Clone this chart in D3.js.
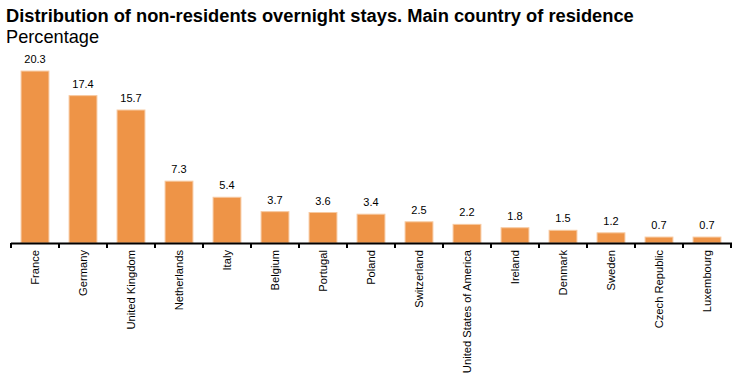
<!DOCTYPE html>
<html>
<head>
<meta charset="utf-8">
<script src="https://cdn.jsdelivr.net/npm/d3@7"></script>
<style>
  body { margin: 0; background: #fff; }
  text { font-family: "Liberation Sans", Arial, sans-serif; }
</style>
</head>
<body>
<div id="chart"></div>
<script>
// Data
var countries = ["France", "Germany", "United Kingdom", "Netherlands", "Italy", "Belgium",
                 "Portugal", "Poland", "Switzerland", "United States of America", "Ireland",
                 "Denmark", "Sweden", "Czech Republic", "Luxembourg"];
var shares = [20.3, 17.4, 15.7, 7.3, 5.4, 3.7, 3.6, 3.4, 2.5, 2.2, 1.8, 1.5, 1.2, 0.7, 0.7];

function init() {
    var w = 742;
    var h = 376;
    var left = 11, right = 731, baseY = 243;

    var svg = d3.select("#chart")
        .append("svg")
        .attr("width", w)
        .attr("height", h);

    // Title and subtitle
    svg.append("text")
        .attr("x", 6)
        .attr("y", 22)
        .style("font-size", "18.3px")
        .style("font-weight", "bold")
        .text("Distribution of non-residents overnight stays. Main country of residence");

    svg.append("text")
        .attr("x", 6)
        .attr("y", 43)
        .style("font-size", "18.2px")
        .text("Percentage");

    var xScale = d3.scaleBand()
        .domain(countries)
        .range([left, right])
        .paddingInner(0.42)
        .paddingOuter(0.21);

    var yScale = d3.scaleLinear()
        .domain([0, 22])
        .range([baseY, baseY - 22 * 8.47]);

    // Bars
    svg.selectAll("rect.bar")
        .data(countries)
        .enter()
        .append("rect")
        .attr("class", "bar")
        .attr("x", function(d) { return xScale(d); })
        .attr("y", function(d, i) { return yScale(shares[i]); })
        .attr("width", xScale.bandwidth())
        .attr("height", function(d, i) { return baseY - yScale(shares[i]); })
        .attr("fill", "#ee9447")
        .attr("stroke", "#f7c9a0")
        .attr("stroke-width", 1);

    // Value labels
    svg.selectAll("text.val")
        .data(countries)
        .enter()
        .append("text")
        .attr("class", "val")
        .attr("x", function(d) { return xScale(d) + xScale.bandwidth() / 2; })
        .attr("y", function(d, i) { return yScale(shares[i]) - 8; })
        .attr("text-anchor", "middle")
        .style("font-size", "11px")
        .text(function(d, i) { return shares[i].toFixed(1); });

    // Category axis with ticks at band edges
    var axis = svg.append("g");
    axis.append("line")
        .attr("x1", left)
        .attr("x2", right + 1)
        .attr("y1", baseY + 0.5)
        .attr("y2", baseY + 0.5)
        .attr("stroke", "#000")
        .attr("stroke-width", 2);

    axis.selectAll("line.tick")
        .data(d3.range(countries.length + 1))
        .enter()
        .append("line")
        .attr("class", "tick")
        .attr("x1", function(i) { return left + i * xScale.step(); })
        .attr("x2", function(i) { return left + i * xScale.step(); })
        .attr("y1", baseY)
        .attr("y2", baseY + 5)
        .attr("stroke", "#000")
        .attr("stroke-width", 2);

    axis.selectAll("text.cat")
        .data(countries)
        .enter()
        .append("text")
        .attr("class", "cat")
        .attr("text-anchor", "end")
        .attr("transform", function(d) {
            return "translate(" + (xScale(d) + xScale.bandwidth() / 2 + 4) + "," + (baseY + 7) + ") rotate(-90)";
        })
        .style("font-size", "11.2px")
        .text(function(d) { return d; });
}

window.onload = init;
</script>
</body>
</html>
